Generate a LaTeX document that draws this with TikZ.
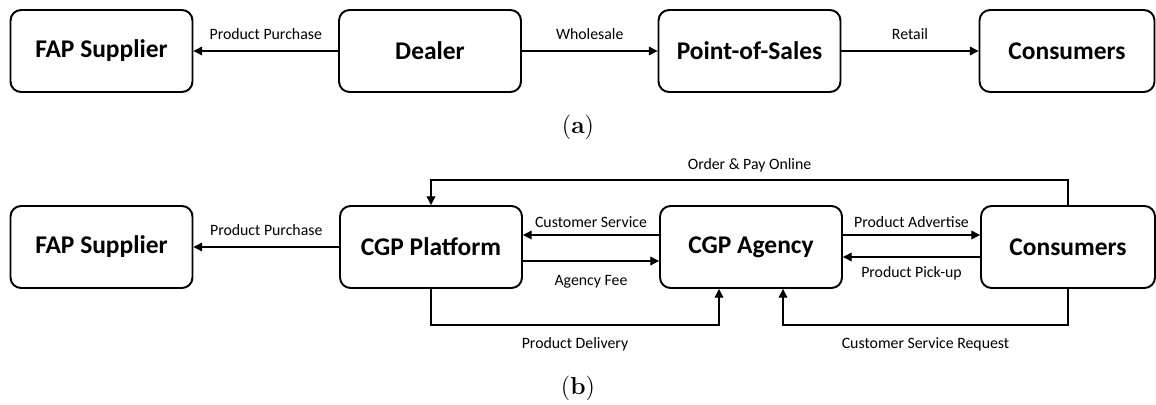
\documentclass[tikz,border=0pt]{standalone}
\usepackage{fontspec}
\setsansfont{Carlito}
\usetikzlibrary{arrows.meta}

\tikzset{
  box/.style={draw, line width=1.1pt, rounded corners=6pt, minimum width=3.64cm, minimum height=1.64cm,
    font=\sffamily\bfseries\fontsize{14.5}{16}\selectfont},
  lbl/.style={font=\sffamily\fontsize{9}{10}\selectfont, inner sep=2pt},
  flow/.style={-{Triangle[length=5pt,width=5pt]}, line width=0.7pt},
  subcap/.style={font=\fontsize{14}{16}\selectfont}
}

\begin{document}
\begin{tikzpicture}[x=0.02cm, y=-0.02cm]
            \useasboundingbox (0,0) rectangle (1156,405);

            % (a)
            \node [box] (fap1) at (101.5,51) {FAP Supplier};
            \node [box] (deal) at (430,51) {Dealer};
            \node [box] (pos) at (749.5,51) {Point-of-Sales};
            \node [box, minimum width=3.5cm] (cons1) at (1067,51) {Consumers};

            \draw [flow] (deal) -- (fap1) node [lbl, midway, above=4pt] {Product Purchase};
            \draw [flow] (deal) -- (pos) node [lbl, midway, above=4pt] {Wholesale};
            \draw [flow] (pos) -- (cons1) node [lbl, midway, above=4pt] {Retail};

            \node [subcap] (capa) at (578,127) {(\textbf{a})};

            % (b)
            \node [box] (fap2) at (101.5,247) {FAP Supplier};
            \node [box] (plat) at (431,247) {CGP Platform};
            \node [box] (agen) at (751,247) {CGP Agency};
            \node [box, minimum width=3.48cm] (cons2) at (1068,247) {Consumers};

            \draw [flow] (plat) -- (fap2) node [lbl, midway, above=4pt] {Product Purchase};
            \draw [flow] ([yshift=0.24cm]agen.west) -- ([yshift=0.24cm]plat.east) node [lbl, midway, above=2pt] {Customer Service};
            \draw [flow] ([yshift=-0.28cm]plat.east) -- ([yshift=-0.28cm]agen.west) node [lbl, midway, below=6pt] {Agency Fee};
            \draw [flow] ([yshift=0.24cm]agen.east) -- ([yshift=0.24cm]cons2.west) node [lbl, midway, above=2pt] {Product Advertise};
            \draw [flow] ([yshift=-0.2cm]cons2.west) -- ([yshift=-0.2cm]agen.east) node [lbl, midway, below=3pt] {Product Pick-up};

            \draw [flow] (cons2.north) -- ++(0,-25) -| (plat.north) node [lbl, pos=0.25, above=2pt] {Order \& Pay Online};
            \draw [flow] (plat.south) -- ++(0,36) -| ([xshift=-0.64cm]agen.south) node [lbl, pos=0.25, below=5pt] {Product Delivery};
            \draw [flow] (cons2.south) -- ++(0,36) -| ([xshift=0.64cm]agen.south) node [lbl, pos=0.25, below=5pt] {Customer Service Request};

            \node [subcap] (capb) at (578,388) {(\textbf{b})};
        \end{tikzpicture}
\end{document}
